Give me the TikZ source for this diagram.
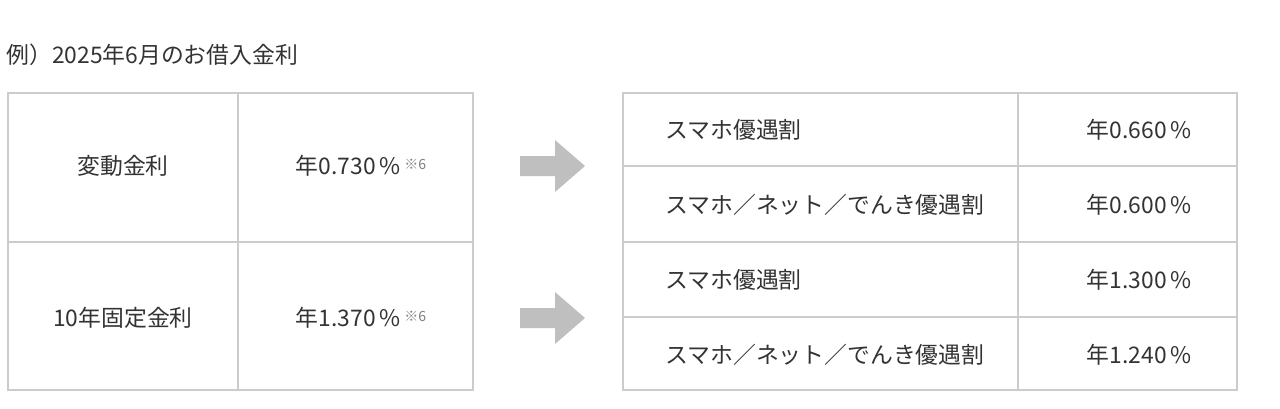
\documentclass[tikz,border=0pt]{standalone}
\usepackage{fontspec}
\setmainfont{Noto Sans CJK JP}
\usetikzlibrary{positioning}
\definecolor{rule}{HTML}{CCCCCC}
\definecolor{ink}{HTML}{333333}
\begin{document}
\begin{tikzpicture}[cell/.style={text=ink, font=\fontsize{13}{15}\selectfont, inner sep=0pt},
	frame/.style={draw=rule, line width=1.4pt},
	blockarrow/.style={fill=rule!90!black!90, draw=none}]
		\useasboundingbox (0,0) rectangle (25.6,-8.16);
		\node[cell, anchor=west] (title) at (0.12,-1.1) {例）2025年6月のお借入金利};

		% left table
		\draw[frame] (0.16,-1.86) rectangle (9.46,-7.8);
		\draw[frame] (4.76,-1.86) -- (4.76,-7.8);
		\draw[frame] (0.16,-4.84) -- (9.46,-4.84);
		\node[cell] (var) at (2.46,-3.32) {変動金利};
		\node[cell] (varrate) at (7.22,-3.32) {年0.730\,\%\,{\fontsize{8}{9}\selectfont\raisebox{0.7ex}{\color{gray}※6}}};
		\node[cell] (fix) at (2.46,-6.36) {10年固定金利};
		\node[cell] (fixrate) at (7.22,-6.36) {年1.370\,\%\,{\fontsize{8}{9}\selectfont\raisebox{0.7ex}{\color{gray}※6}}};

		% arrows
		\foreach \y in {-3.32,-6.36} {
			\fill[blockarrow] (10.4,\y+0.2) -- (11.1,\y+0.2) -- (11.1,\y+0.52) -- (11.7,\y)
				-- (11.1,\y-0.52) -- (11.1,\y-0.2) -- (10.4,\y-0.2) -- cycle;
		}

		% right table
		\draw[frame] (12.46,-1.86) rectangle (24.74,-7.8);
		\draw[frame] (20.36,-1.86) -- (20.36,-7.8);
		\draw[frame] (12.46,-3.32) -- (24.74,-3.32);
		\draw[frame] (12.46,-4.84) -- (24.74,-4.84);
		\draw[frame] (12.46,-6.34) -- (24.74,-6.34);
		\node[cell, anchor=west] (a1) at (13.3,-2.6) {スマホ優遇割};
		\node[cell, anchor=east] (r1) at (23.84,-2.6) {年0.660\,\%};
		\node[cell, anchor=west] (a2) at (13.3,-4.1) {スマホ／ネット／でんき優遇割};
		\node[cell, anchor=east] (r2) at (23.84,-4.1) {年0.600\,\%};
		\node[cell, anchor=west] (a3) at (13.3,-5.6) {スマホ優遇割};
		\node[cell, anchor=east] (r3) at (23.84,-5.6) {年1.300\,\%};
		\node[cell, anchor=west] (a4) at (13.3,-7.1) {スマホ／ネット／でんき優遇割};
		\node[cell, anchor=east] (r4) at (23.84,-7.1) {年1.240\,\%};
\end{tikzpicture}
\end{document}
